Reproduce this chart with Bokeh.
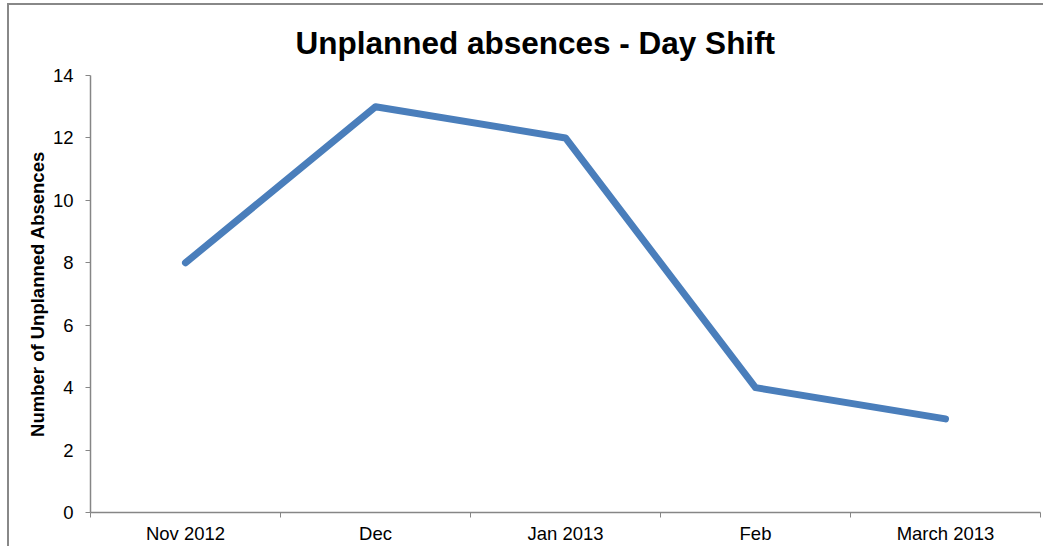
from bokeh.plotting import figure
from bokeh.models import FixedTicker, Range1d
from bokeh.embed import file_html
from bokeh.resources import INLINE

categories = ["Nov 2012", "Dec", "Jan 2013", "Feb", "March 2013"]
absences = [8, 13, 12, 4, 3]
y_ticks = [0, 2, 4, 6, 8, 10, 12, 14]
title_text = "Unplanned absences - Day Shift"

xs = [i + 0.5 for i in range(len(categories))]
boundaries = list(range(len(categories) + 1))

p = figure(width=1036, height=543, output_backend="svg", toolbar_location=None,
           x_range=Range1d(0, len(categories)), y_range=Range1d(0, 14),
           min_border_left=81, min_border_right=5, min_border_top=70, min_border_bottom=36,
           margin=(3, 0, 0, 7),
           styles={"border-left": "2px solid #888888", "border-top": "2px solid #888888"})

p.line(xs, absences, line_color="#4A7EBB", line_width=7, line_cap="round", line_join="round")

p.title.text = title_text
p.title.text_font = "Liberation Sans"
p.title.text_font_size = "31.5px"
p.title.text_font_style = "bold"
p.title.text_color = "#000000"
p.title.align = "left"
p.title.offset = 205
p.title.standoff = 30

p.xgrid.visible = False
p.ygrid.visible = False
p.outline_line_color = None

xa = p.xaxis[0]
xa.ticker = FixedTicker(ticks=xs, minor_ticks=boundaries)
xa.major_label_overrides = {x: c for x, c in zip(xs, categories)}
xa.major_tick_line_color = None
xa.major_tick_out = 5
xa.major_tick_in = 0
xa.minor_tick_line_color = "#868686"
xa.minor_tick_out = 5
xa.minor_tick_in = 0
xa.axis_line_color = "#868686"
xa.axis_line_width = 1.5
xa.major_label_text_font = "Liberation Sans"
xa.major_label_text_font_size = "18.5px"
xa.major_label_text_color = "#000000"
xa.major_label_standoff = 5

ya = p.yaxis[0]
ya.ticker = FixedTicker(ticks=y_ticks)
ya.minor_tick_line_color = None
ya.major_tick_line_color = "#868686"
ya.major_tick_out = 5
ya.major_tick_in = 0
ya.axis_line_color = "#868686"
ya.axis_line_width = 1.5
ya.major_label_text_font = "Liberation Sans"
ya.major_label_text_font_size = "18.5px"
ya.major_label_text_color = "#000000"
ya.major_label_standoff = 12
ya.axis_label = "Number of Unplanned Absences"
ya.axis_label_text_font = "Liberation Sans"
ya.axis_label_text_font_size = "18.5px"
ya.axis_label_text_font_style = "bold"
ya.axis_label_text_color = "#000000"
ya.axis_label_standoff = 2

open("out.html", "w").write(file_html(p, INLINE))
